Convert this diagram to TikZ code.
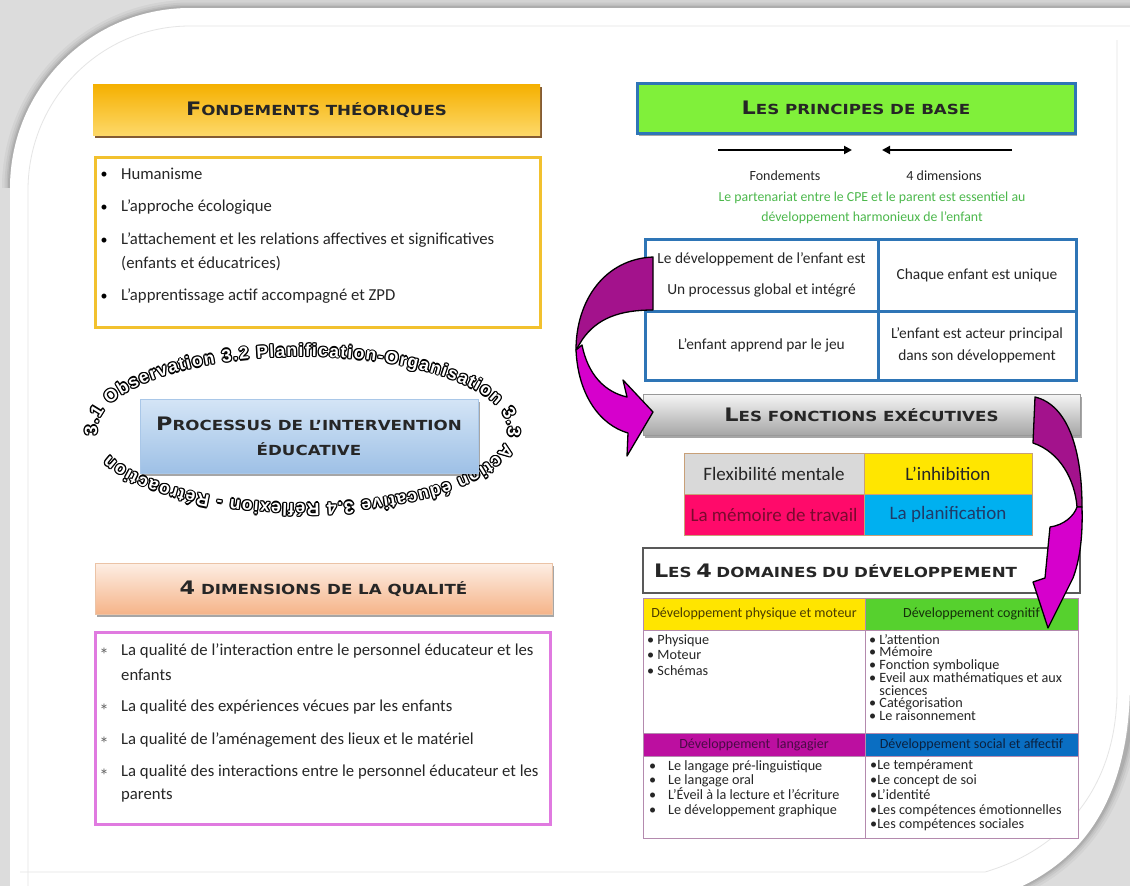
\documentclass[tikz,border=0pt]{standalone}
\usepackage{fontspec}
\setmainfont{Carlito}
\newfontfamily\hdrfont[FakeStretch=1.2]{DejaVu Sans}
\newfontfamily\arcfont{Liberation Sans}
\usetikzlibrary{shadows,decorations.text,arrows.meta}
\definecolor{bggray}{HTML}{DCDCDC}
\definecolor{fhTop}{HTML}{F5B000}
\definecolor{fhBot}{HTML}{FDD868}
\definecolor{fhLine}{HTML}{F2C12E}
\definecolor{pbGreen}{HTML}{80F03A}
\definecolor{tblBlue}{HTML}{2E75B6}
\definecolor{ptGreen}{HTML}{4CB84C}
\definecolor{pdTop}{HTML}{FDEEE4}
\definecolor{pdBot}{HTML}{F5B489}
\definecolor{pdLine}{HTML}{EBC3A6}
\definecolor{qBorder}{HTML}{E07AE0}
\definecolor{prTop}{HTML}{D4E5F6}
\definecolor{prBot}{HTML}{9EC0E6}
\definecolor{prLine}{HTML}{A9C7E8}
\definecolor{exTop}{HTML}{F6F6F6}
\definecolor{exBot}{HTML}{A6A6A6}
\definecolor{exGray}{HTML}{D9D9D9}
\definecolor{exYellow}{HTML}{FFE600}
\definecolor{exPink}{HTML}{FF0A6A}
\definecolor{exCyan}{HTML}{00B0F0}
\definecolor{exLine}{HTML}{C8A078}
\definecolor{exRedTxt}{HTML}{7A0A2E}
\definecolor{exBlueTxt}{HTML}{1F3A68}
\definecolor{dYellow}{HTML}{FFE500}
\definecolor{dGreen}{HTML}{56D12E}
\definecolor{dMagenta}{HTML}{BC0FA0}
\definecolor{dBlue}{HTML}{0A6EC2}
\definecolor{dLine}{HTML}{B48AAE}
\definecolor{dYTxt}{HTML}{4A3C00}
\definecolor{dGTxt}{HTML}{15300A}
\definecolor{dMTxt}{HTML}{4A0A45}
\definecolor{dBTxt}{HTML}{0A2140}
\definecolor{arDark}{HTML}{A3128C}
\definecolor{arBright}{HTML}{D600CC}
\definecolor{txt}{HTML}{262626}
\newcommand\Bg[1]{{\fontsize{18.6}{15}\selectfont #1}}
\tikzset{
  hdrtext/.style={font=\hdrfont\bfseries\fontsize{13.9}{25}\selectfont, text=txt, align=center, inner sep=0pt},
  hshadow/.style={drop shadow={shadow xshift=1.5pt, shadow yshift=-2.5pt, fill=black, opacity=0.35}},
  item/.style={anchor=west, inner sep=0pt, font=\fontsize{16.7}{18}\selectfont, text=txt},
  dot/.style={anchor=center, inner sep=0pt, font=\fontsize{14}{16}\selectfont, text=black},
  star/.style={anchor=center, inner sep=0pt, font=\fontsize{19}{16}\selectfont, text=black!60},
  small/.style={inner sep=0pt, font=\fontsize{14}{15}\selectfont, text=txt},
  pcell/.style={draw=tblBlue, line width=3pt, inner sep=0pt, align=center, font=\fontsize{15.4}{18}\selectfont, text=txt},
  ecell/.style={draw=exLine, line width=0.8pt, inner sep=0pt, minimum height=41pt, font=\fontsize{19}{20}\selectfont},
  dhead/.style={draw=dLine, line width=0.8pt, inner sep=0pt, font=\fontsize{14}{15}\selectfont},
  dbody/.style={draw=dLine, line width=0.8pt, inner sep=0pt, fill=white},
  dtext/.style={anchor=north west, inner sep=0pt, align=left, font=\fontsize{14.2}{12.7}\selectfont, text=txt},
  ribbon/.style={draw=black, line width=1.3pt, line join=round},
  ringdec/.style={decoration={text along path, text align={fit to path},
     text={|\arcfont\bfseries\fontsize{17.5}{17}\selectfont|3.1 Observation  3.2 Planification-Organisation 3.3 Action éducative 3.4 Réflexion - Rétroaction}}},
  arr/.style={line width=2.2pt, -{Triangle[length=8pt,width=8pt]}},
}
\begin{document}
\begin{tikzpicture}[x=1pt,y=-1pt]
\useasboundingbox (0,0) rectangle (1130,886);
% page
\fill[bggray] (0,0) rectangle (1130,886);
\foreach \w/\o in {16/0.04,11/0.05,7/0.06,4/0.08}{
  \draw[black, opacity=\o, line width=\w pt] (10,188) .. controls (10,88.6) and (90.6,8) .. (190,8) -- (1135,8) -- (1135,680) .. controls (1130,790) and (1090,870) .. (985,900);
}
\fill[white] (10,188) .. controls (10,88.6) and (90.6,8) .. (190,8) -- (1135,8) -- (1130,680) .. controls (1130,790) and (1090,870) .. (985,900) -- (10,900) -- cycle;
\draw[black!10, line width=0.8pt] (28,886) -- (28,190) .. controls (28,100) and (100,26) .. (190,26) -- (1130,26);
\draw[black!10, line width=0.8pt] (20,872) -- (985,872) .. controls (1060,850) and (1117,790) .. (1117,690) -- (1117,40);

% ---------- left column ----------
\node[hdrtext, minimum width=447pt, minimum height=51pt, top color=fhTop, bottom color=fhBot,
  drop shadow={shadow xshift=1.5pt, shadow yshift=-2.5pt, fill=black!60!orange, opacity=0.8}] (fh) at (316.5,109.5) {\Bg{F}ONDEMENTS THÉORIQUES};
\node[draw=fhLine, line width=3pt, minimum width=445pt, minimum height=170pt, inner sep=0pt] (fb) at (317.5,242) {};
\node[dot] (fb1) at (104,175) {•}; \node[item] (f1) at (121,174) {Humanisme};
\node[dot] (fb2) at (104,208) {•}; \node[item] (f2) at (121,207) {L’approche écologique};
\node[dot] (fb3) at (104,241) {•}; \node[item] (f3) at (121,240) {L’attachement et les relations affectives et significatives};
\node[item] (f3b) at (121,264) {(enfants et éducatrices)};
\node[dot] (fb4) at (104,297) {•}; \node[item] (f4) at (121,296) {L’apprentissage actif accompagné et ZPD};

% ring of text
\begin{scope}[shift={(302.5,430)}, x=1pt, y=1pt]
  \foreach \dx/\dy in {1.3/0,-1.3/0,0/1.3,0/-1.3,0.9/0.9,0.9/-0.9,-0.9/0.9,-0.9/-0.9}{
    \path[ringdec, decoration={text color=black}, decorate, xshift=\dx pt, yshift=\dy pt]
      (184:205.5 and 73.5) arc[start angle=184, end angle=-160, x radius=205.5, y radius=73.5];
  }
  \path[ringdec, decoration={text color=white}, decorate]
      (184:205.5 and 73.5) arc[start angle=184, end angle=-160, x radius=205.5, y radius=73.5];
\end{scope}
\node[hdrtext, minimum width=338pt, minimum height=74pt, top color=prTop, bottom color=prBot, draw=prLine, line width=0.6pt, hshadow] (pr) at (309,436) {\Bg{P}ROCESSUS DE L’INTERVENTION\\ÉDUCATIVE};

\node[hdrtext, minimum width=457pt, minimum height=51pt, top color=pdTop, bottom color=pdBot, draw=pdLine, line width=0.6pt, hshadow] (qh) at (323.5,588.5) {\Bg{4} DIMENSIONS DE LA QUALITÉ};
\node[draw=qBorder, line width=3pt, minimum width=455pt, minimum height=192pt, inner sep=0pt] (qb) at (322.5,728) {};
\node[star] (qs1) at (104,655) {*}; \node[item] (q1) at (121,651) {La qualité de l’interaction entre le personnel éducateur et les};
\node[item] (q1b) at (121,675) {enfants};
\node[star] (qs2) at (104,711) {*}; \node[item] (q2) at (121,707) {La qualité des expériences vécues par les enfants};
\node[star] (qs3) at (104,744) {*}; \node[item] (q3) at (121,740) {La qualité de l’aménagement des lieux et le matériel};
\node[star] (qs4) at (104,776) {*}; \node[item] (q4) at (121,772) {La qualité des interactions entre le personnel éducateur et les};
\node[item] (q4b) at (121,796) {parents};

% ---------- right column ----------
\node[hdrtext, minimum width=438pt, minimum height=50pt, fill=pbGreen, draw=tblBlue, line width=3pt, hshadow] (pb) at (856,108) {\Bg{L}ES PRINCIPES DE BASE};
\coordinate (a1s) at (718,150); \coordinate (a1e) at (852,150);
\coordinate (a2s) at (1012,150); \coordinate (a2e) at (882,150);
\draw[arr] (a1s) -- (a1e);
\draw[arr] (a2s) -- (a2e);
\node[small] (lf) at (785,176) {Fondements};
\node[small] (ld) at (944,176) {4 dimensions};
\node[small, text=ptGreen, align=center, font=\fontsize{13.8}{20}\selectfont] (pt) at (872,208) {Le partenariat entre le CPE et le parent est essentiel au\\développement harmonieux de l’enfant};

\node[pcell, minimum width=233pt, minimum height=72pt, font=\fontsize{15.4}{31}\selectfont] (p11) at (761.5,275) {Le développement de l’enfant est\\Un processus global et intégré};
\node[pcell, minimum width=198pt, minimum height=72pt] (p12) at (977,275) {Chaque enfant est unique};
\node[pcell, minimum width=233pt, minimum height=69pt] (p21) at (761.5,345.5) {L’enfant apprend par le jeu};
\node[pcell, minimum width=198pt, minimum height=69pt, font=\fontsize{15.4}{22}\selectfont] (p22) at (977,345.5) {L’enfant est acteur principal\\dans son développement};

\node[hdrtext, minimum width=437pt, minimum height=41pt, top color=exTop, bottom color=exBot, draw=black!40, line width=0.6pt, hshadow] (ex) at (861.5,414.5) {\Bg{L}ES FONCTIONS EXÉCUTIVES};
\node[ecell, fill=exGray, minimum width=180pt, text=txt] (e11) at (774,473.5) {Flexibilité mentale};
\node[ecell, fill=exYellow, minimum width=168pt, text=txt] (e12) at (948,473.5) {L’inhibition};
\node[ecell, fill=exPink, minimum width=180pt, text=exRedTxt] (e21) at (774,514.5) {La mémoire de travail};
\node[ecell, fill=exCyan, minimum width=168pt, text=exBlueTxt] (e22) at (948,514.5) {La planification};

\node[hdrtext, draw=black!65, line width=1.2pt, fill=white, minimum width=437pt, minimum height=45pt, text width=415pt, align=left] (dh) at (861.5,570.5) {\Bg{L}ES \Bg{4} DOMAINES DU DÉVELOPPEMENT};

\node[dhead, fill=dYellow, minimum width=222pt, minimum height=32pt, text=dYTxt] (d1h) at (754,614) {Développement physique et moteur};
\node[dhead, fill=dGreen, minimum width=213pt, minimum height=32pt, text=dGTxt] (d2h) at (971.5,614) {Développement cognitif};
\node[dbody, minimum width=222pt, minimum height=103pt] (d1b) at (754,681.5) {};
\node[dbody, minimum width=213pt, minimum height=103pt] (d2b) at (971.5,681.5) {};
\node[dhead, fill=dMagenta, minimum width=222pt, minimum height=23pt, text=dMTxt] (d3h) at (754,744.5) {Développement\ \ langagier};
\node[dhead, fill=dBlue, minimum width=213pt, minimum height=23pt, text=dBTxt] (d4h) at (971.5,744.5) {Développement social et affectif};
\node[dbody, minimum width=222pt, minimum height=82pt] (d3b) at (754,797) {};
\node[dbody, minimum width=213pt, minimum height=82pt] (d4b) at (971.5,797) {};

\node[dtext, font=\fontsize{14.2}{15.5}\selectfont] (d1t) at (647,634) {• Physique\\• Moteur\\• Schémas};
\node[dtext] (d2t) at (869,634) {• L’attention\\• Mémoire\\• Fonction symbolique\\• Eveil aux mathématiques et aux\\\phantom{• }sciences\\• Catégorisation\\• Le raisonnement};
\node[dtext, font=\fontsize{14.2}{14.7}\selectfont] (d3t) at (649,760) {\makebox[19pt][l]{•}Le langage pré-linguistique\\\makebox[19pt][l]{•}Le langage oral\\\makebox[19pt][l]{•}L’Éveil à la lecture et l’écriture\\\makebox[19pt][l]{•}Le développement graphique};
\node[dtext, font=\fontsize{14.2}{14.7}\selectfont] (d4t) at (870,760) {•Le tempérament\\•Le concept de soi\\•L’identité\\•Les compétences émotionnelles\\•Les compétences sociales};

% ---------- magenta ribbons ----------
\filldraw[ribbon, fill=arDark] (653,257) .. controls (605,259) and (576,300) .. (576,350) -- (582,340) .. controls (597,318) and (620,310) .. (653,310) -- cycle;
\filldraw[ribbon, fill=arBright] (576,350) .. controls (578,395) and (600,425) .. (628,433) -- (627,456) -- (653,412) -- (623,380) -- (627,397) .. controls (605,392) and (588,375) .. (582,345) -- cycle;
\filldraw[ribbon, fill=arDark] (1035,397) .. controls (1068,405) and (1082,450) .. (1082,507) -- (1077,507) .. controls (1075,480) and (1060,452) .. (1033,443) -- cycle;
\filldraw[ribbon, fill=arBright] (1082,507) .. controls (1083,540) and (1079,562) .. (1073,578) -- (1048,628) -- (1033,582) -- (1045,578) -- (1050,527) .. controls (1064,525) and (1074,516) .. (1077,507) -- cycle;
\end{tikzpicture}
\end{document}
